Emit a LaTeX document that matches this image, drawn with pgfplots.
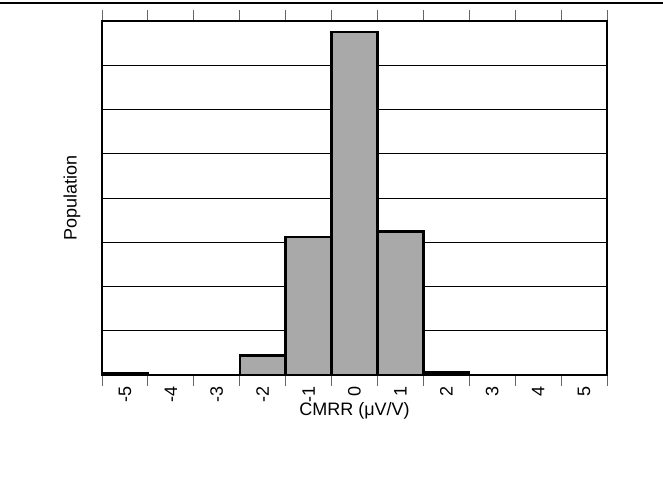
\documentclass[border=0pt]{standalone}
\usepackage{fontspec}
\setmainfont{Liberation Sans}
\usepackage{pgfplots}
\pgfplotsset{compat=1.18}
\definecolor{barfill}{RGB}{169,169,169}
\begin{document}
\fontsize{9bp}{11bp}\selectfont
\begin{tikzpicture}
\useasboundingbox (0,0) rectangle (331.5bp,241.5bp);
\draw[line width=0.75bp] (0,240bp) -- (331.5bp,240bp);
\begin{axis}[
  at={(51bp,54bp)}, anchor=south west,
  scale only axis, width=252.5bp, height=177bp,
  xmin=-5.5, xmax=5.5, ymin=0, ymax=8,
  xtick={-5,-4,-3,-2,-1,0,1,2,3,4,5},
  xticklabels={-5,-4,-3,-2,-1,0,1,2,3,4,5},
  minor xtick={-5.5,-4.5,-3.5,-2.5,-1.5,-0.5,0.5,1.5,2.5,3.5,4.5,5.5},
  ytick={1,2,3,4,5,6,7},
  yticklabels={},
  ymajorgrids,
  major grid style={black, line width=0.4bp},
  major tick length=0pt,
  minor tick length=5.5bp,
  tick align=outside,
  minor tick style={black!60, line width=0.5bp},
  axis line style={line width=1.4bp},
  xticklabel shift=2.5bp,
  xticklabel style={rotate=90, anchor=east, font=\fontsize{9bp}{11bp}\selectfont},
  xlabel={CMRR (μV/V)},
  ylabel={Population},
  xlabel style={at={(axis description cs:0.5,0)}, anchor=north, yshift=-10.5bp},
  ylabel style={at={(axis description cs:-0.03,0.5)}, anchor=south},
  label style={font=\fontsize{9bp}{11bp}\selectfont},
]
\addplot[ybar, bar width=1, bar shift=0pt, fill=barfill, draw=black, line width=1.2bp]
  coordinates {(-5,0.03) (-2,0.44) (-1,3.125) (0,7.745) (1,3.24) (2,0.06)};
\end{axis}
\end{tikzpicture}
\end{document}
